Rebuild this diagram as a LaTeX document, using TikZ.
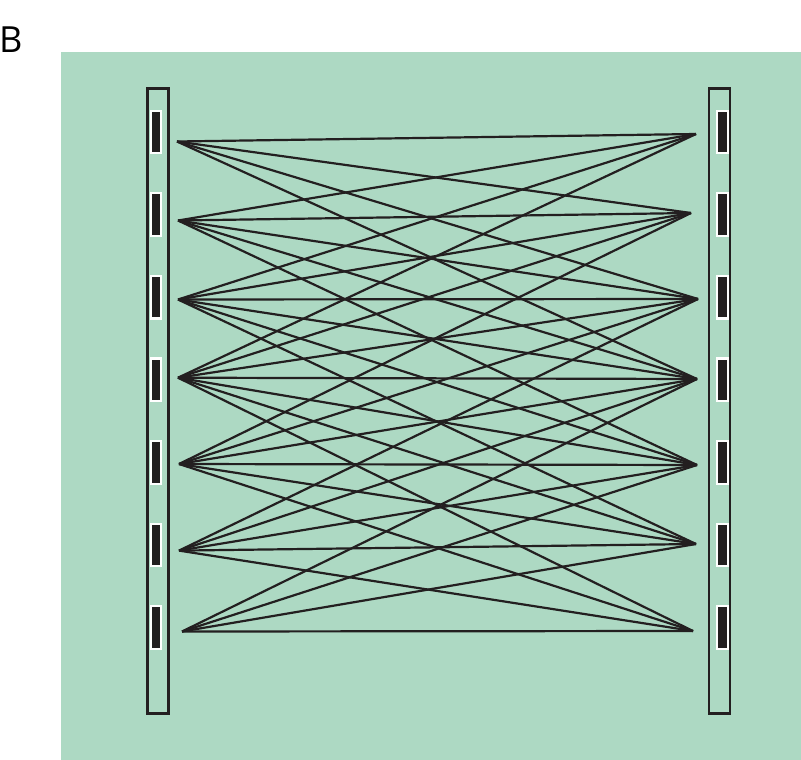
\documentclass[tikz,border=0pt]{standalone}
\usepackage{fontspec}
\setmainfont{Open Sans}
\usepackage{xcolor}
\usepackage{tikz}
\definecolor{panelgreen}{HTML}{ADD9C3}
\definecolor{inkblack}{HTML}{231F20}

\begin{document}
\begin{tikzpicture}[x=1pt,y=-1pt]
        \tikzstyle{bar}=[draw=inkblack,line width=2.2pt,minimum width=21pt,minimum height=625pt,inner sep=0pt]
        \tikzstyle{pad}=[draw=white,fill=inkblack,line width=2.2pt,minimum width=10.5pt,minimum height=42.5pt,inner sep=0pt]
        \tikzstyle{wire}=[draw=inkblack,line width=2.2pt]
        \useasboundingbox (0,0) rectangle (801,760);
        \fill[panelgreen] (61,52) rectangle (801,760);
        \node[anchor=base west,inner sep=0pt,font=\fontsize{36}{36}\selectfont] (lbl) at (-1,53) {B};
        % the two electrode bars
        \node[bar] (lb) at (158,401) {};
        \node[bar] (rb) at (719.5,401) {};
        \foreach \y [count=\i] in {132,214.6,297.2,379.8,462.4,545,627.6} {
          \node[pad] (pl\i) at (156,\y) {};
          \node[pad] (pr\i) at (722.5,\y) {};
        }
        % wire ends
        \foreach \x/\y [count=\i] in {177/141.5,178/220.5,178/299.5,178/377.7,179/464,179/550.6,182/631.5}
          \coordinate (l\i) at (\x,\y);
        \foreach \x/\y [count=\i] in {696/134,691/213,698/299,697/379,697/465,696/544,693/631}
          \coordinate (r\i) at (\x,\y);
        % every left end to the right ends at most 3 away
        \foreach \i in {1,...,7}
          \foreach \j in {1,...,7} {
            \pgfmathtruncatemacro\d{abs(\i-\j)}
            \ifnum\d<4 \draw[wire] (l\i) -- (r\j); \fi
          }
      \end{tikzpicture}
\end{document}
